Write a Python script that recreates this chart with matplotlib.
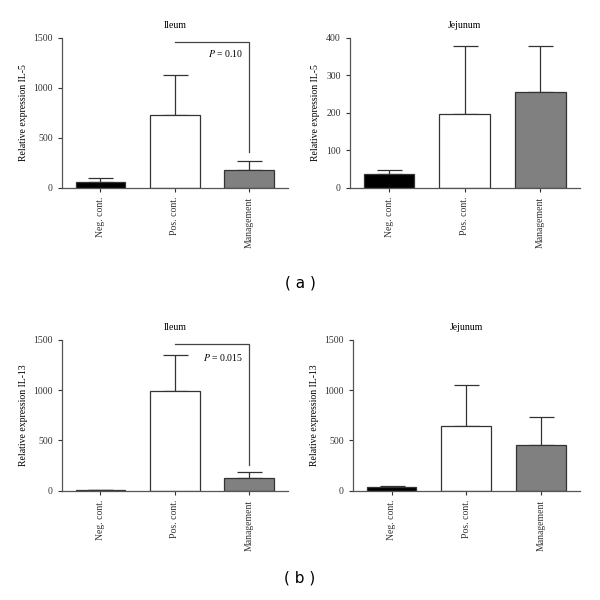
import numpy as np
from matplotlib import pyplot as plt

groups = ['Neg. cont.', 'Pos. cont.', 'Management']
colors = ['black', 'white', '#808080']

il5_ileum = [55, 725, 175]
il5_ileum_err = [45, 405, 95]
il5_jejunum = [37, 197, 255]
il5_jejunum_err = [11, 181, 122]

il13_ileum = [5, 995, 125]
il13_ileum_err = [3, 355, 60]
il13_jejunum = [38, 640, 455]
il13_jejunum_err = [10, 405, 275]

plt.rcParams['font.family'] = ['Liberation Serif', 'DejaVu Serif']
plt.rcParams['mathtext.fontset'] = 'stix'

FS = 7


def bar_panel(ax, vals, errs, ymax, step, title, ylabel):
    x = np.arange(len(groups))
    ax.bar(x, vals, width=0.667, color=colors, edgecolor='#333333', linewidth=0.9, zorder=2)
    ax.errorbar(x, vals, yerr=[np.zeros(len(vals)), errs], fmt='none',
                ecolor='#333333', elinewidth=0.9, capsize=9, capthick=0.9, zorder=1)
    ax.set_xlim(-0.52, 2.52)
    ax.set_ylim(0, ymax)
    ax.set_yticks(np.arange(0, ymax + 1, step))
    ax.set_xticks(x)
    ax.set_xticklabels(groups, rotation=90, fontsize=FS)
    ax.tick_params(axis='y', labelsize=FS, length=3, width=0.8, colors='#333333')
    ax.tick_params(axis='x', length=3, width=0.8, colors='#333333')
    for s in ['top', 'right']:
        ax.spines[s].set_visible(False)
    for s in ['left', 'bottom']:
        ax.spines[s].set_color('#555555')
        ax.spines[s].set_linewidth(0.9)
    ax.set_title(title, fontsize=FS, pad=7)
    ax.set_ylabel(ylabel, fontsize=FS, labelpad=4)


def bracket(ax, y_top, y_low, y_text, label):
    ax.plot([1, 2, 2], [y_top, y_top, y_low], color='#444444', lw=0.9, clip_on=False)
    ax.text(1.92, y_text, label, ha='right', va='center', fontsize=FS)


fig = plt.figure(figsize=(6, 6), dpi=100)

ax1 = fig.add_axes([0.103, 0.687, 0.377, 0.25])
bar_panel(ax1, il5_ileum, il5_ileum_err, 1500, 500, 'Ileum', 'Relative expression IL-5')
bracket(ax1, 1460, 360, 1345, '$P$ = 0.10')

ax2 = fig.add_axes([0.583, 0.687, 0.383, 0.25])
bar_panel(ax2, il5_jejunum, il5_jejunum_err, 400, 100, 'Jejunum', 'Relative expression IL-5')

ax3 = fig.add_axes([0.103, 0.182, 0.377, 0.252])
bar_panel(ax3, il13_ileum, il13_ileum_err, 1500, 500, 'Ileum', 'Relative expression IL-13')
bracket(ax3, 1460, 258, 1320, '$P$ = 0.015')

ax4 = fig.add_axes([0.588, 0.182, 0.378, 0.252])
bar_panel(ax4, il13_jejunum, il13_jejunum_err, 1500, 500, 'Jejunum', 'Relative expression IL-13')

fig.text(0.5, 1 - 283 / 600, '( a )', ha='center', va='center', fontsize=11, family='DejaVu Sans')
fig.text(0.5, 1 - 578 / 600, '( b )', ha='center', va='center', fontsize=11, family='DejaVu Sans')

fig.savefig('out.png', dpi=100)
